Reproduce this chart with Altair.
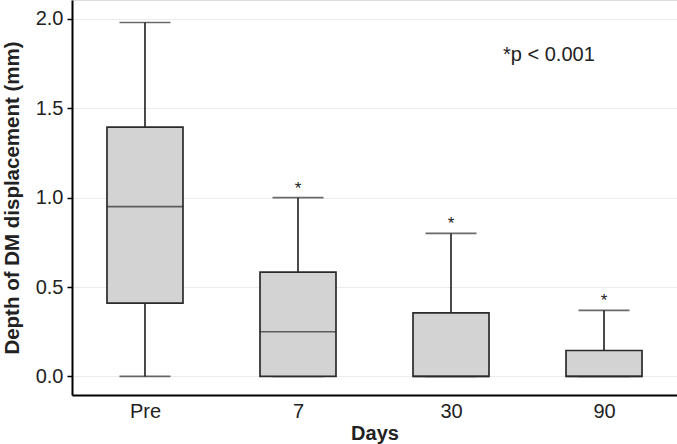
import altair as alt
import pandas as pd

days = ["Pre", "7", "30", "90"]
mins = [0.0, 0.0, 0.0, 0.0]
q1s = [0.41, 0.0, 0.0, 0.0]
medians = [0.95, 0.25, 0.0, 0.0]
q3s = [1.395, 0.583, 0.356, 0.145]
maxs = [1.98, 1.0, 0.80, 0.37]
stars = ["", "*", "*", "*"]

df = pd.DataFrame({"day": days, "lo": mins, "q1": q1s, "med": medians,
                   "q3": q3s, "hi": maxs, "star": stars})

FONT = "Liberation Sans"
xs = alt.Scale(type="point", domain=days, padding=0.477)
ys = alt.Scale(domain=[-0.104, 2.106], nice=False, zero=False)

x = alt.X("day:N", scale=xs, sort=days,
          axis=alt.Axis(title="Days", labelAngle=0, ticks=False, grid=False,
                        domainColor="#000", domainWidth=2, labelFont=FONT,
                        labelFontSize=20, labelColor="#222", labelPadding=6,
                        titleFont=FONT, titleFontSize=20, titleFontWeight="bold",
                        titleColor="#222", titlePadding=2))
base = alt.Chart(df)

whisk = base.mark_rule(color="#2b2b2b", strokeWidth=1.7).encode(
    x=x,
    y=alt.Y("lo:Q", scale=ys, axis=alt.Axis(
        title="Depth of DM displacement (mm)", values=[0, 0.5, 1.0, 1.5, 2.0],
        format=".1f", tickSize=5, tickColor="#000", tickWidth=1.5,
        domainColor="#000", domainWidth=2, gridColor="#ececec", gridWidth=1,
        labelFont=FONT, labelFontSize=20, labelColor="#222", labelPadding=4,
        titleFont=FONT, titleFontSize=20.5, titleFontWeight="bold",
        titleColor="#222", titlePadding=13)),
    y2="hi:Q")

capsLo = base.mark_tick(color="#2b2b2b", thickness=1.7, size=51, orient="horizontal").encode(
    x=x, y=alt.Y("lo:Q", scale=ys))
capsHi = base.mark_tick(color="#2b2b2b", thickness=1.7, size=51, orient="horizontal").encode(
    x=x, y=alt.Y("hi:Q", scale=ys))

box = base.mark_bar(size=76, fill="#d3d3d3", stroke="#2b2b2b", strokeWidth=1.7).encode(
    x=x, y=alt.Y("q1:Q", scale=ys), y2="q3:Q")

med = base.mark_tick(color="#2b2b2b", thickness=1.7, size=76, orient="horizontal").encode(
    x=x, y=alt.Y("med:Q", scale=ys))

star = base.mark_text(font=FONT, fontSize=17, color="#222", baseline="bottom", dy=0).encode(
    x=x, y=alt.Y("hi:Q", scale=ys), text="star:N")

note = alt.Chart(pd.DataFrame({"t": ["*p < 0.001"]})).mark_text(
    font=FONT, fontSize=20, color="#222", align="left", baseline="middle").encode(
    x=alt.value(431), y=alt.value(55), text="t:N")

chart = alt.layer(whisk, capsLo, capsHi, box, med, star, note).properties(
    width=605, height=395, autosize=alt.AutoSizeParams(type="none"),
    padding={"left": 72, "top": 0, "right": 0, "bottom": 49}
).configure_view(stroke=None).configure(background="white")

chart.save("out.html", embed_options={"renderer": "svg", "actions": False})
